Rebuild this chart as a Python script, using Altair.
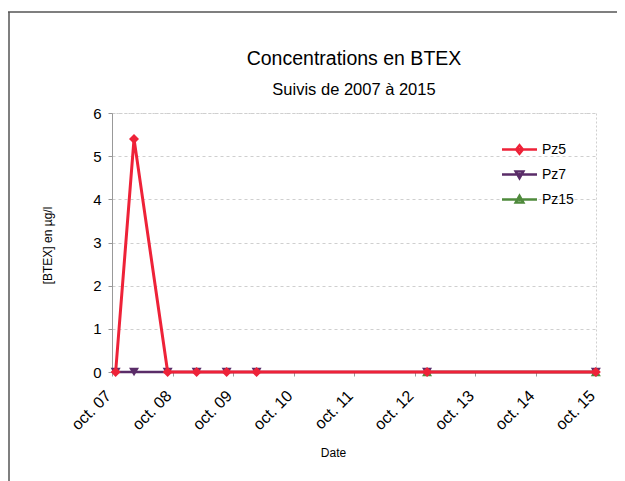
import altair as alt
import pandas as pd

series = ["Pz5", "Pz7", "Pz15"]
colors = ["#ee2238", "#5a2c68", "#4f8a3c"]
shapes = ["diamond", "triangle-down", "triangle-up"]

dates_pz5 = ["2007-10-23", "2008-02-11", "2008-09-01", "2009-02-23",
             "2009-08-23", "2010-02-20", "2012-12-15", "2015-09-30"]
values_pz5 = [0, 5.4, 0, 0, 0, 0, 0, 0]
dates_pz7 = ["2007-10-23", "2008-02-11", "2008-09-01", "2009-02-23",
             "2009-08-23", "2010-02-20", "2012-12-15", "2015-09-30"]
values_pz7 = [0, 0, 0, 0, 0, 0, 0, 0]
dates_pz15 = ["2012-12-15", "2015-09-30"]
values_pz15 = [0, 0]

tick_years = [2007, 2008, 2009, 2010, 2011, 2012, 2013, 2014, 2015]
y_ticks = [0, 1, 2, 3, 4, 5, 6]

rows = []
for name, ds, vs in [("Pz5", dates_pz5, values_pz5),
                     ("Pz7", dates_pz7, values_pz7),
                     ("Pz15", dates_pz15, values_pz15)]:
    for d, v in zip(ds, vs):
        rows.append({"serie": name, "date": d, "val": v})
df = pd.DataFrame(rows)

FONT = "Liberation Sans"

x_enc = alt.X(
    "date:T",
    scale=alt.Scale(type="utc", domain=[
        alt.DateTime(year=tick_years[0], month=10, date=1, utc=True),
        alt.DateTime(year=tick_years[-1], month=10, date=1, utc=True)]),
    axis=alt.Axis(
        values=[alt.DateTime(year=y, month=10, date=1, utc=True) for y in tick_years],
        labelExpr="'oct. ' + utcFormat(datum.value, '%y')",
        labelAngle=315, labelAlign="right", labelBaseline="middle",
        labelFontSize=16, labelColor="black", labelFont=FONT, labelPadding=17,
        labelOffset=-4,
        tickColor="#999", tickSize=4, domainColor="#999", grid=False,
        titleFontSize=12, titleFont=FONT, titleFontWeight="normal", titleColor="black",
        titleX=221, titleY=80, titleBaseline="middle", titleAlign="center"),
    title="Date")

y_enc = alt.Y(
    "val:Q",
    scale=alt.Scale(domain=[0, 6], nice=False),
    axis=alt.Axis(
        values=y_ticks, format="d", labelFontSize=15, labelColor="black", labelFont=FONT,
        labelPadding=7, tickColor="#999", tickSize=4, domainColor="#999",
        grid=True, gridColor="#cfcfcf", gridDash=[3, 3],
        titleFontSize=12, titleFont=FONT, titleFontWeight="normal", titleColor="black",
        titleAngle=270, titleX=-65, titleY=132, titleAlign="center", titleBaseline="middle"),
    title="[BTEX] en µg/l")

legend_paths = [
    "M-1.75,0H1.75M0,-0.42L0.34,0L0,0.42L-0.34,0ZM-0.17,0H0.17M0,-0.17V0.17",
    "M-1.75,0H1.75M-0.38,-0.3L0.38,-0.3L0,0.38ZM0,-0.15V0.1",
    "M-1.75,0H1.75M-0.38,0.3L0.38,0.3L0,-0.38ZM0,0.15V-0.1",
]

frame_df = pd.DataFrame({"k": [0]})
frame_top = alt.Chart(frame_df).mark_rule(color="#555", strokeWidth=1.5).encode(
    x=alt.value(-104), x2=alt.value(505), y=alt.value(-101))
frame_left = alt.Chart(frame_df).mark_rule(color="#555", strokeWidth=1.5).encode(
    x=alt.value(-103), y=alt.value(-101), y2=alt.value(420))

layers = [frame_top, frame_left]
widths = {"Pz5": 3, "Pz7": 2.5, "Pz15": 2.5}
for i in [2, 1, 0]:
    name = series[i]
    base = alt.Chart(df).transform_filter(alt.datum.serie == name)
    col = alt.Color("serie:N", scale=alt.Scale(domain=series, range=colors), legend=None)
    line = base.mark_line(strokeWidth=widths[name]).encode(x=x_enc, y=y_enc, color=col)
    pts = base.mark_point(filled=True, size=100, opacity=1).encode(
        x=x_enc, y=y_enc, color=col,
        shape=alt.Shape("serie:N", scale=alt.Scale(domain=series, range=shapes), legend=None))
    layers += [line, pts]

leg = alt.Chart(df).transform_filter("false").mark_point(filled=False, strokeWidth=2.5, opacity=1).encode(
    color=alt.Color("serie:N", scale=alt.Scale(domain=series, range=colors), legend=alt.Legend(title=None)),
    shape=alt.Shape("serie:N", scale=alt.Scale(domain=series, range=legend_paths), legend=alt.Legend(title=None)),
)
layers.append(leg)

chart = alt.layer(*layers).resolve_scale(color="independent", shape="independent").properties(
    width=484, height=259,
    autosize=alt.AutoSizeParams(type="none"),
    padding={"left": 104, "top": 105, "right": 21, "bottom": 109},
    title=alt.Title("Concentrations en BTEX", subtitle="Suivis de 2007 à 2015",
                    fontSize=19.5, subtitleFontSize=16.5, font=FONT, subtitleFont=FONT,
                    fontWeight="normal", color="black", subtitleColor="black",
                    anchor="middle", offset=-88, subtitlePadding=12),
).configure_view(stroke="#cfcfcf", strokeDash=[2, 2]).configure_legend(
    orient="none", legendX=396, legendY=25, symbolSize=400, symbolStrokeWidth=2.5,
    symbolOpacity=1,
    labelFontSize=14, labelFont=FONT, labelColor="black", labelOffset=11, rowPadding=4,
    symbolType="circle"
)

chart.save("out.html", embed_options={"renderer": "svg", "actions": False})
